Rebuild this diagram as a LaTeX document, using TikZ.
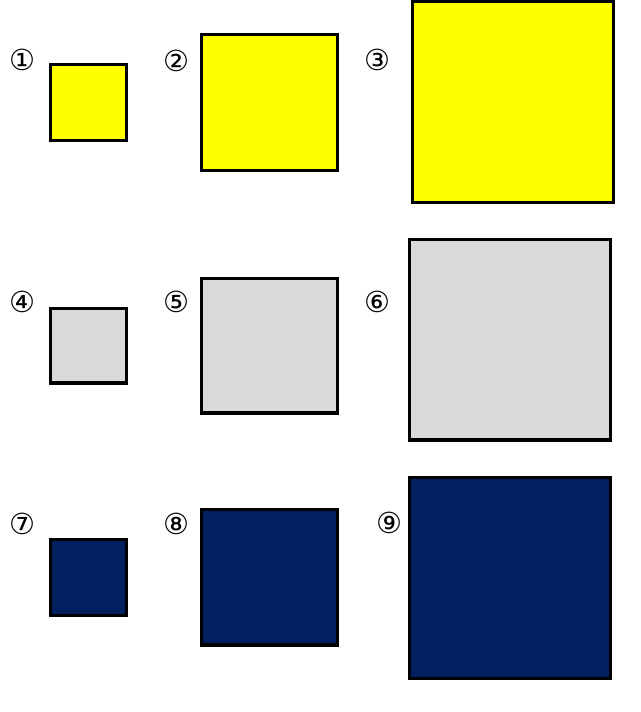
\documentclass[tikz,border=0pt]{standalone}
\usepackage{fontspec}
\newfontfamily\symfont{DejaVu Sans}
\definecolor{cyel}{HTML}{FFFF00}
\definecolor{cgry}{HTML}{D9D9D9}
\definecolor{cnav}{HTML}{002060}
\begin{document}
\begin{tikzpicture}[x=1pt,y=-1pt,
  sq/.style={draw=black,line width=3.3pt},
  num/.style={font=\symfont\fontsize{29}{29}\selectfont,inner sep=0pt,anchor=center}]
\useasboundingbox (0,0) rectangle (640,712);
% row 1
\node[num] (n1) at (22,59.5) {①};
\node[num] (n2) at (176,60.5) {②};
\node[num] (n3) at (377,59.5) {③};
\path[sq,fill=cyel] (50.8,64.8) rectangle (126.5,140.2);
\path[sq,fill=cyel] (201.5,34.8) rectangle (337.2,170.2);
\path[sq,fill=cyel] (412.5,1.6) rectangle (613.5,202.8);
% row 2
\node[num] (n4) at (22,302) {④};
\node[num] (n5) at (176,302) {⑤};
\node[num] (n6) at (377,302) {⑥};
\path[sq,fill=cgry] (50.8,308.5) rectangle (126.5,383);
\path[sq,fill=cgry] (201.5,278.8) rectangle (337.2,413);
\path[sq,fill=cgry] (409.8,239.8) rectangle (610.2,440);
% row 3
\node[num] (n7) at (22.7,524) {⑦};
\node[num] (n8) at (176,524) {⑧};
\node[num] (n9) at (389,523.3) {⑨};
\path[sq,fill=cnav] (50.8,539.8) rectangle (126.2,615.2);
\path[sq,fill=cnav] (201.5,509.8) rectangle (337.2,645);
\path[sq,fill=cnav] (409.8,477.5) rectangle (610.2,678.5);
\end{tikzpicture}
\end{document}
